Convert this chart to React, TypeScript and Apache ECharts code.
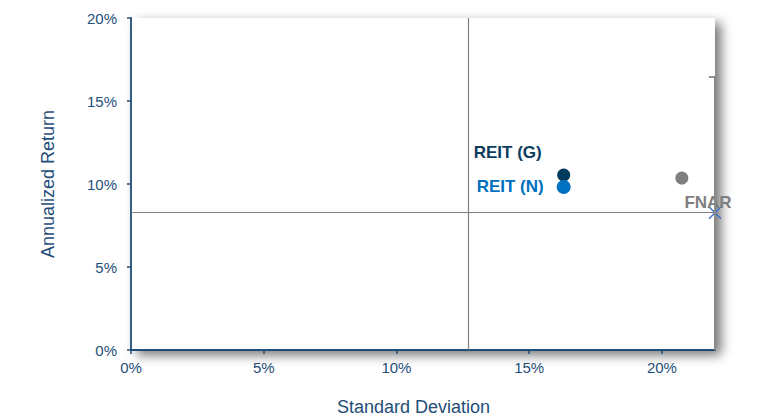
import React, { useEffect, useRef } from "react";
import * as echarts from "echarts";

// Data (percent)
const reitG: [number, number] = [16.3, 10.54];
const reitN: [number, number] = [16.3, 9.82];
const otherPoint: [number, number] = [20.75, 10.36];
const fnar: [number, number] = [22.0, 8.27];
const crossX = 12.7; // vertical reference line
const crossY = 8.27; // horizontal reference line
const rightLineTop = 16.45;
const xTicks = [0, 5, 10, 15, 20];
const yTicks = [0, 5, 10, 15, 20];
const xMax = 22;
const yMax = 20;

const AXIS_COLOR = "#1F4E79";
const FONT = "Liberation Sans, Arial, sans-serif";

export default function App() {
  const ref = useRef<HTMLDivElement>(null);
  useEffect(() => {
    if (!ref.current) return;
    const chart = echarts.init(ref.current, undefined, { renderer: "svg" });
    const labelStyle = (color: string) => ({
      show: true,
      color,
      fontWeight: "bold" as const,
      fontSize: 17,
      fontFamily: FONT,
    });
    chart.setOption({
      animation: false,
      grid: {
        left: 131,
        top: 18,
        width: 584,
        height: 332,
        outerBoundsMode: "none",
        containLabel: false,
        show: true,
        backgroundColor: "#ffffff",
        borderWidth: 0,
        shadowColor: "rgba(0,0,0,0.55)",
        shadowBlur: 12,
        shadowOffsetX: 6,
        shadowOffsetY: 5,
      },
      xAxis: {
        type: "value",
        min: xTicks[0],
        max: xMax,
        interval: 5,
        splitLine: { show: false },
        axisLine: { show: true, lineStyle: { color: AXIS_COLOR, width: 1.8 } },
        axisTick: { show: true, length: 4, lineStyle: { color: AXIS_COLOR, width: 1.5 } },
        axisLabel: {
          color: AXIS_COLOR,
          fontSize: 15,
          fontFamily: FONT,
          margin: 10,
          showMaxLabel: false,
          formatter: (v: number) => (xTicks.includes(v) ? v + "%" : ""),
        },
        name: "Standard Deviation",
        nameLocation: "middle",
        nameGap: 48,
        nameTextStyle: {
          color: AXIS_COLOR,
          fontSize: 18,
          fontFamily: FONT,
          padding: [0, 19, 0, 0],
        },
      },
      yAxis: {
        type: "value",
        min: yTicks[0],
        max: yMax,
        interval: 5,
        splitLine: { show: false },
        axisLine: { show: true, lineStyle: { color: AXIS_COLOR, width: 1.8 } },
        axisTick: { show: true, length: 4, lineStyle: { color: AXIS_COLOR, width: 1.5 } },
        axisLabel: {
          color: AXIS_COLOR,
          fontSize: 15,
          fontFamily: FONT,
          margin: 14,
          formatter: (v: number) => v + "%",
        },
        name: "Annualized Return",
        nameLocation: "middle",
        nameGap: 74,
        nameTextStyle: {
          color: AXIS_COLOR,
          fontSize: 18,
          fontFamily: FONT,
        },
      },
      series: [
        {
          type: "scatter",
          name: "lines",
          data: [],
          silent: true,
          markLine: {
            silent: true,
            symbol: "none",
            animation: false,
            label: { show: false },
            data: [
              [
                { coord: [crossX, 0], lineStyle: { color: "#808080", width: 1.2, type: "solid" } },
                { coord: [crossX, yMax] },
              ],
              [
                { coord: [0, crossY], lineStyle: { color: "#808080", width: 1.2, type: "solid" } },
                { coord: [xMax, crossY] },
              ],
              [
                { coord: [xMax, 0], lineStyle: { color: "#8a8a8a", width: 2, type: "solid" } },
                { coord: [xMax, rightLineTop] },
              ],
              [
                { coord: [xMax - 0.23, rightLineTop], lineStyle: { color: "#707070", width: 1.5, type: "solid" } },
                { coord: [xMax, rightLineTop] },
              ],
            ],
          },
        },
        {
          type: "scatter",
          name: "REIT (G)",
          data: [reitG],
          symbolSize: 13,
          clip: false,
          itemStyle: { color: "#003A5D", opacity: 1 },
          label: { ...labelStyle("#0B3C5D"), position: "inside", offset: [-56, -23], formatter: "REIT (G)" },
        },
        {
          type: "scatter",
          name: "Other",
          data: [otherPoint],
          symbolSize: 13,
          clip: false,
          itemStyle: { color: "#808080", opacity: 1 },
        },
        {
          type: "scatter",
          name: "REIT (N)",
          data: [reitN],
          symbolSize: 14,
          clip: false,
          itemStyle: { color: "#0070C0", opacity: 1 },
          label: { ...labelStyle("#0070C0"), position: "inside", offset: [-53.5, 0], formatter: "REIT (N)" },
        },
        {
          type: "scatter",
          name: "FNAR",
          data: [fnar],
          symbol: "path://M0,0L10,10M10,0L0,10",
          symbolSize: 12,
          clip: false,
          itemStyle: { color: "none", borderColor: "#4472C4", borderWidth: 1.5, opacity: 1 },
          label: { ...labelStyle("#7F7F7F"), position: "inside", offset: [-7, -10], formatter: "FNAR" },
        },
      ],
    });
    return () => chart.dispose();
  }, []);
  return (
    <div
      ref={ref}
      style={{ position: "fixed", left: 0, top: 0, width: 765, height: 417, background: "#fff" }}
    />
  );
}
